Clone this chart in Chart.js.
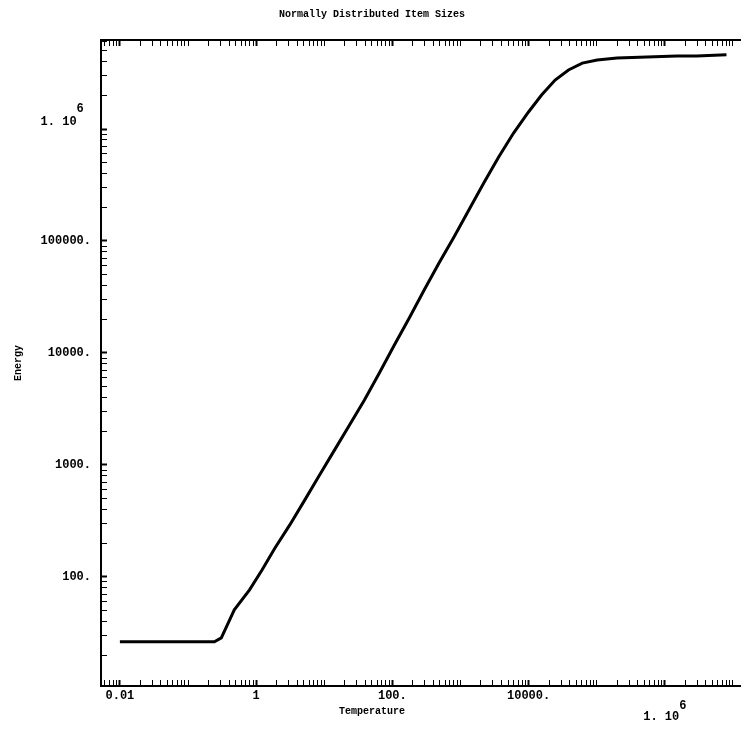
<!DOCTYPE html>
<html><head><meta charset="utf-8">
<script src="https://cdn.jsdelivr.net/npm/chart.js@4.4.1/dist/chart.umd.min.js"></script>
<style>html,body{margin:0;padding:0;background:#fff;}#wrap{width:744px;height:735px;}</style>
</head><body><div id="wrap"><canvas id="c" width="744" height="735"></canvas></div>
<script>
const chartTitle = 'Normally Distributed Item Sizes';
const xAxisTitle = 'Temperature';
const yAxisTitle = 'Energy';

const temperature = [0.01, 0.244, 0.308, 0.378, 0.478, 0.80, 1.22, 1.89, 3.12, 5.19, 8.58, 14.2, 23.5, 38.9, 64.4, 107, 177, 293, 484, 803, 1327, 2196, 3636, 6015, 9970, 15500, 24500, 38500, 61390, 101600, 199000, 546000, 1500000, 2930000, 8040000];
const energy = [26.3, 26.3, 28.5, 37.3, 50.7, 76.6, 115, 181, 291, 487, 815, 1362, 2277, 3805, 6624, 11770, 20540, 36520, 63700, 108600, 189200, 329700, 562000, 921000, 1420000, 2010000, 2740000, 3370000, 3880000, 4130000, 4310000, 4400000, 4500000, 4500000, 4600000];

const xMajorTicks = [0.01, 1, 100, 10000, 1000000];
const xTickLabels = ['0.01', '1', '100.', '10000.', ['', '     6', '1. 10 ']];
const yMajorTicks = [100, 1000, 10000, 100000, 1000000];
const yTickLabels = ['100.', '1000.', '10000.', '100000.', ['     6 ', '1. 10  ', '', '']];

const xRange = [0.00528, 1.285e7];
const yRange = [10.6, 6.24e6];

function logTickValues(lo, hi) {
  const out = [];
  for (let e = Math.floor(Math.log10(lo)) - 1; e <= Math.ceil(Math.log10(hi)); e++) {
    for (let m = 1; m <= 9; m++) {
      const v = m * Math.pow(10, e);
      if (v >= lo && v <= hi) out.push(v);
    }
  }
  return out;
}
function majorIndex(list, v) {
  for (let i = 0; i < list.length; i++) {
    if (Math.abs(Math.log10(v) - Math.log10(list[i])) < 1e-6) return i;
  }
  return -1;
}

const mono = 'Liberation Mono, Courier New, monospace';
const points = temperature.map((t, i) => ({x: t, y: energy[i]}));

new Chart(document.getElementById('c'), {
  type: 'line',
  data: { datasets: [{
    data: points, borderColor: '#000', borderWidth: 3, pointRadius: 0, tension: 0, fill: false
  }]},
  options: {
    responsive: false, animation: false, devicePixelRatio: 1,
    layout: { padding: 0 },
    plugins: {
      legend: { display: false }, tooltip: { enabled: false },
      title: { display: true, text: chartTitle, color: '#000',
        font: { family: mono, weight: 'bold', size: 10, lineHeight: 1.2 },
        padding: { top: 8, bottom: 6 } },
      subtitle: { display: true, position: 'bottom', text: xAxisTitle, color: '#000',
        font: { family: mono, weight: 'bold', size: 10, lineHeight: 1.2 },
        padding: { top: -18, bottom: 18 } }
    },
    scales: {
      x: {
        type: 'logarithmic', position: 'bottom', min: xRange[0], max: xRange[1],
        afterBuildTicks: s => { s.ticks = logTickValues(xRange[0], xRange[1]).map(v => ({value: v})); },
        afterFit: s => { s.height = 37; },
        ticks: { autoSkip: false, maxRotation: 0, minRotation: 0, padding: 11, color: '#000',
          font: { family: mono, weight: 'bold', size: 12, lineHeight: 0.85 },
          callback: v => { const i = majorIndex(xMajorTicks, v); return i >= 0 ? xTickLabels[i] : ''; } },
        grid: { drawOnChartArea: false, drawTicks: true, tickLength: -6, color: '#000',
          tickWidth: c => (c.tick && majorIndex(xMajorTicks, c.tick.value) >= 0) ? 2 : 1 },
        border: { display: true, color: '#000', width: 2 }
      },
      xTop: {
        type: 'logarithmic', position: 'top', min: xRange[0], max: xRange[1],
        afterBuildTicks: s => { s.ticks = logTickValues(xRange[0], xRange[1]).map(v => ({value: v})); },
        afterFit: s => { s.height = 14; },
        ticks: { display: false, autoSkip: false, maxRotation: 0 },
        grid: { drawOnChartArea: false, drawTicks: true, tickLength: -6, color: '#000',
          tickWidth: c => (c.tick && majorIndex(xMajorTicks, c.tick.value) >= 0) ? 2 : 1 },
        border: { display: true, color: '#000', width: 2 }
      },
      y: {
        type: 'logarithmic', position: 'left', min: yRange[0], max: yRange[1],
        afterBuildTicks: s => { s.ticks = logTickValues(yRange[0], yRange[1]).map(v => ({value: v})); },
        afterFit: s => { s.width = 101; },
        ticks: { autoSkip: false, padding: 16, color: '#000',
          font: { family: mono, weight: 'bold', size: 12, lineHeight: 1.1 },
          callback: v => { const i = majorIndex(yMajorTicks, v); return i >= 0 ? yTickLabels[i] : ''; } },
        grid: { drawOnChartArea: false, drawTicks: true, tickLength: -6, color: '#000',
          tickWidth: c => (c.tick && majorIndex(yMajorTicks, c.tick.value) >= 0) ? 2 : 1 },
        border: { display: true, color: '#000', width: 2 },
        title: { display: true, text: yAxisTitle, color: '#000',
          font: { family: mono, weight: 'bold', size: 10, lineHeight: 1.2 }, padding: { top: 12, bottom: 0 } }
      }
    }
  }
});
</script></body></html>
